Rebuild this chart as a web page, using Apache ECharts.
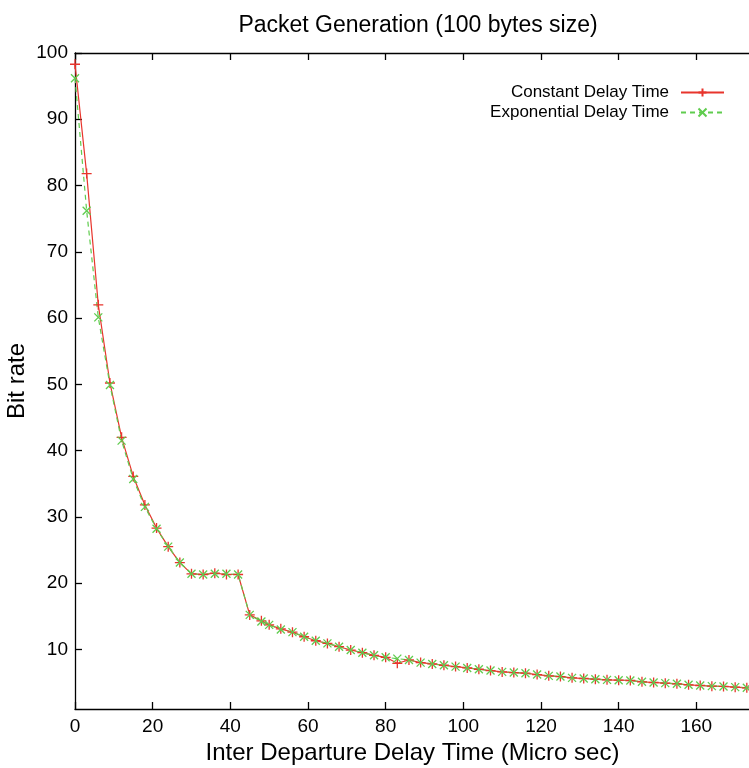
<!DOCTYPE html>
<html>
<head>
<meta charset="utf-8">
<script src="https://cdn.jsdelivr.net/npm/echarts@6/dist/echarts.min.js"></script>
<style>
html,body{margin:0;padding:0;background:#fff;}
#chart{width:749px;height:768px;}
</style>
</head>
<body>
<div id="chart"></div>
<script>
const titleText = 'Packet Generation (100 bytes size)';
const xName = 'Inter Departure Delay Time (Micro sec)';
const yName = 'Bit rate';
const seriesNames = ['Constant Delay Time', 'Exponential Delay Time'];
const xTicks = [0, 20, 40, 60, 80, 100, 120, 140, 160];
const yTicks = [10, 20, 30, 40, 50, 60, 70, 80, 90, 100];
const delays = [0,3,6,9,12,15,18,21,24,27,30,33,36,39,42,45,48,50,53,56,59,62,65,68,71,74,77,80,83,86,89,92,95,98,101,104,107,110,113,116,119,122,125,128,131,134,137,140,143,146,149,152,155,158,161,164,167,170,173];
const constantRate = [98.3,81.8,62.0,50.2,42.0,36.1,31.8,28.3,25.5,23.1,21.4,21.3,21.5,21.3,21.3,15.2,14.3,13.7,13.1,12.6,11.9,11.3,10.9,10.4,9.9,9.5,9.1,8.8,7.9,8.4,8.0,7.8,7.6,7.4,7.2,7.0,6.8,6.6,6.5,6.4,6.2,6.0,5.9,5.7,5.6,5.5,5.4,5.35,5.3,5.1,5.0,4.9,4.8,4.65,4.55,4.45,4.4,4.3,4.2];
const exponentialRate = [96.2,76.2,60.1,49.9,41.5,35.7,31.5,28.2,25.5,23.1,21.4,21.3,21.4,21.4,21.3,15.2,14.2,13.7,13.0,12.6,11.9,11.3,10.9,10.4,9.9,9.5,9.1,8.8,8.6,8.4,8.0,7.8,7.6,7.4,7.2,7.0,6.8,6.6,6.5,6.4,6.2,6.0,5.9,5.7,5.6,5.5,5.4,5.35,5.3,5.1,5.0,4.9,4.8,4.65,4.55,4.45,4.4,4.3,4.2];

const RED = '#e8352c';
const GREEN = '#5fcc4e';
const FONT = 'Liberation Sans, Arial, Helvetica, sans-serif';

const chart = echarts.init(document.getElementById('chart'), null, {renderer: 'canvas'});
const pairs = (xs, ys) => xs.map((x, i) => [x, ys[i]]);

const axisCommon = {
  axisLine: {show: true, onZero: false, lineStyle: {color: '#000', width: 1.3}},
  splitLine: {show: false},
  axisTick: {show: true, inside: true, length: 7, lineStyle: {color: '#000', width: 1.3}},
};

chart.setOption({
  backgroundColor: '#fff',
  animation: false,
  title: {
    text: titleText,
    left: 413, textAlign: 'center', top: 9,
    textStyle: {fontFamily: FONT, fontSize: 23, fontWeight: 'normal', color: '#000'}
  },
  legend: {
    orient: 'vertical', right: 19, top: 79, align: 'right',
    itemWidth: 43, itemHeight: 10, itemGap: 3,
    textStyle: {fontFamily: FONT, fontSize: 17, color: '#000', lineHeight: 17, padding: [0, 7, 0, 0]},
    data: seriesNames
  },
  grid: {left: 75, top: 53, width: 699, height: 656, containLabel: false, outerBoundsMode: 'none'},
  xAxis: [
    Object.assign({}, axisCommon, {
      type: 'value', min: 0, max: 180, position: 'bottom',
      name: xName, nameLocation: 'middle', nameGap: 32, nameMoveOverlap: false,
      nameTextStyle: {fontFamily: FONT, fontSize: 24, color: '#000', padding: [0, 24, 0, 0]},
      axisTick: Object.assign({}, axisCommon.axisTick, {customValues: xTicks}),
      axisLabel: {customValues: xTicks, margin: 8, fontFamily: FONT, fontSize: 19, color: '#000'}
    }),
    Object.assign({}, axisCommon, {
      type: 'value', min: 0, max: 180, position: 'top',
      axisTick: Object.assign({}, axisCommon.axisTick, {customValues: xTicks}),
      axisLabel: {show: false}
    })
  ],
  yAxis: [
    Object.assign({}, axisCommon, {
      type: 'value', min: 1, max: 100, position: 'left',
      name: yName, nameLocation: 'middle', nameGap: 46, nameRotate: 90, nameMoveOverlap: false,
      nameTextStyle: {fontFamily: FONT, fontSize: 24, color: '#000'},
      axisTick: Object.assign({}, axisCommon.axisTick, {customValues: yTicks}),
      axisLabel: {customValues: yTicks, margin: 7, fontFamily: FONT, fontSize: 19, color: '#000'}
    }),
    Object.assign({}, axisCommon, {
      type: 'value', min: 1, max: 100, position: 'right',
      axisTick: Object.assign({}, axisCommon.axisTick, {customValues: yTicks}),
      axisLabel: {show: false}
    })
  ],
  series: [
    {
      name: seriesNames[0], type: 'line', xAxisIndex: 0, yAxisIndex: 0,
      data: pairs(delays, constantRate),
      symbol: 'path://M0,-1L0,1M-1,0L1,0', symbolSize: 10, showAllSymbol: true,
      clip: false,
      lineStyle: {color: RED, width: 1.2},
      itemStyle: {color: RED, borderColor: RED, borderWidth: 1.3},
      emphasis: {disabled: true}
    },
    {
      name: seriesNames[1], type: 'line', xAxisIndex: 0, yAxisIndex: 0,
      data: pairs(delays, exponentialRate),
      symbol: 'path://M-1,-1L1,1M-1,1L1,-1', symbolSize: 8, showAllSymbol: true,
      clip: false,
      lineStyle: {color: GREEN, width: 1.2, type: [5, 4]},
      itemStyle: {color: GREEN, borderColor: GREEN, borderWidth: 1.3},
      emphasis: {disabled: true}
    }
  ]
});
</script>
</body>
</html>
